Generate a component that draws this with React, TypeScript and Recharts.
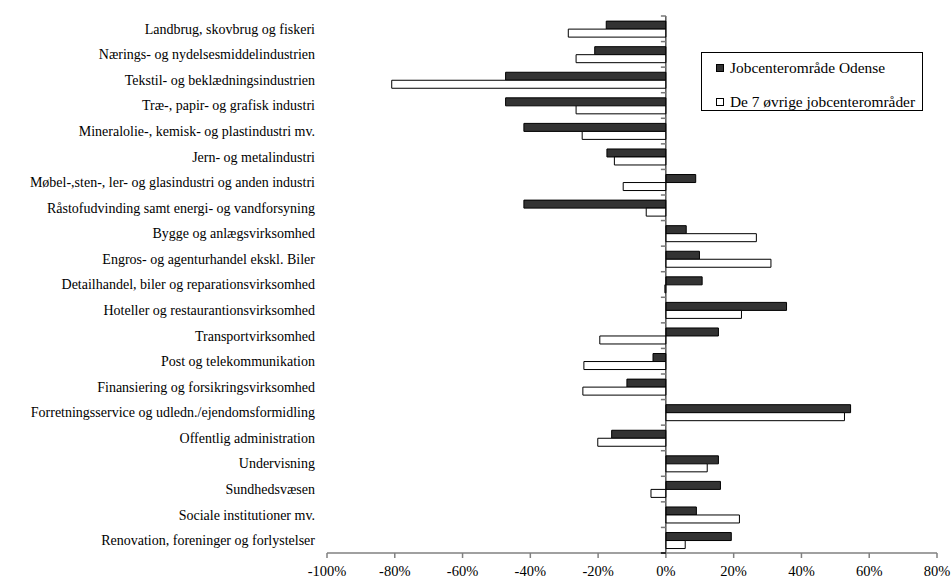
import React from "react";
import {
  Bar, BarChart, Legend, ReferenceLine, XAxis, YAxis,
} from "recharts";

// Sector change, Odense vs the other 7 job centre areas (percent)
const categories = [
  "Landbrug, skovbrug og fiskeri",
  "Nærings- og nydelsesmiddelindustrien",
  "Tekstil- og beklædningsindustrien",
  "Træ-, papir- og grafisk industri",
  "Mineralolie-, kemisk- og plastindustri mv.",
  "Jern- og metalindustri",
  "Møbel-,sten-, ler- og glasindustri og anden industri",
  "Råstofudvinding samt energi- og vandforsyning",
  "Bygge og anlægsvirksomhed",
  "Engros- og agenturhandel ekskl. Biler",
  "Detailhandel, biler og reparationsvirksomhed",
  "Hoteller og restaurantionsvirksomhed",
  "Transportvirksomhed",
  "Post og telekommunikation",
  "Finansiering og forsikringsvirksomhed",
  "Forretningsservice og udledn./ejendomsformidling",
  "Offentlig administration",
  "Undervisning",
  "Sundhedsvæsen",
  "Sociale institutioner mv.",
  "Renovation, foreninger og forlystelser",
];
const odense = [
  -17.6, -21.0, -47.3, -47.3, -41.9, -17.4, 8.8, -41.9, 6.0, 9.9, 10.7,
  35.6, 15.5, -3.8, -11.5, 54.5, -16.0, 15.5, 16.1, 9.0, 19.3,
];
const others = [
  -28.8, -26.5, -80.9, -26.5, -24.7, -15.2, -12.6, -5.8, 26.7, 31.0, -0.3,
  22.3, -19.5, -24.2, -24.5, 52.7, -20.1, 12.2, -4.4, 21.7, 5.7,
];
const xTicks = [-100, -80, -60, -40, -20, 0, 20, 40, 60, 80];
const seriesNames = ["Jobcenterområde Odense", "De 7 øvrige jobcenterområder"];

const data = categories.map((name, i) => ({ name, odense: odense[i], others: others[i] }));

const W = 951;
const H = 583;
const M = { top: 16, right: 14, bottom: 0, left: 0 };
const Y_W = 327;
const X_H = 30;
const FONT = "'Liberation Serif', 'Times New Roman', serif";
const DARK = "#333333";

// zero line x and band height, for the small category ticks at the axis
const plotW = W - M.left - M.right - Y_W;
const ZERO_X = M.left + Y_W + (plotW * 100) / 180;
const BAND = (H - M.top - M.bottom - X_H) / categories.length;

function CatTick(props: any) {
  const { x, y, payload, index } = props;
  const last = index === categories.length - 1;
  return (
    <g>
      <text x={x} y={y} dy="0.35em" textAnchor="end" fontFamily={FONT} fontSize={14} fill="#000">
        {payload.value}
      </text>
      <line x1={ZERO_X - 5} x2={ZERO_X} y1={y - BAND / 2} y2={y - BAND / 2} stroke="#777" strokeWidth={1.5} />
      {last && (
        <line x1={ZERO_X - 5} x2={ZERO_X} y1={y + BAND / 2} y2={y + BAND / 2} stroke="#000" strokeWidth={1.5} />
      )}
    </g>
  );
}

function LegendBox() {
  const fills = [DARK, "#fff"];
  return (
    <div
      style={{
        border: "1px solid #000", background: "#fff", width: 222, height: 59,
        boxSizing: "border-box", fontFamily: FONT, fontSize: 15.4, color: "#000",
        padding: "6px 0 0 14px",
      }}
    >
      {seriesNames.map((n, i) => (
        <div key={n} style={{ display: "flex", alignItems: "center", height: 18, marginBottom: i === 0 ? 16 : 0 }}>
          <span style={{ width: 8, height: 8, background: fills[i], border: "1px solid #000", marginRight: 6, boxSizing: "border-box", flexShrink: 0 }} />
          <span style={{ whiteSpace: "nowrap" }}>{n}</span>
        </div>
      ))}
    </div>
  );
}

export default function App() {
  return (
    <div style={{ position: "absolute", left: 0, top: 0, width: W, height: H, background: "#fff", overflow: "hidden" }}>
      <BarChart
        width={W}
        height={H}
        data={data}
        layout="vertical"
        margin={M}
        barCategoryGap="20%"
        barGap={0}
      >
        <XAxis
          type="number"
          domain={[-100, 80]}
          ticks={xTicks}
          interval={0}
          height={X_H}
          tickFormatter={(v) => `${v}%`}
          tick={{ fontFamily: FONT, fontSize: 14.5, fill: "#000" }}
          axisLine={{ stroke: "#808080", strokeWidth: 1.5 }}
          tickLine={{ stroke: "#808080", strokeWidth: 1.5 }}
          tickSize={5}
          tickMargin={8}
        />
        <YAxis
          type="category"
          dataKey="name"
          width={Y_W}
          interval={0}
          axisLine={false}
          tickLine={false}
          tickSize={0}
          tickMargin={12}
          tick={<CatTick />}
        />
        <ReferenceLine x={0} stroke="#000" strokeWidth={1} />
        <Legend
          layout="horizontal"
          verticalAlign="middle"
          align="center"
          content={() => <LegendBox />}
          wrapperStyle={{ left: 701, top: 52, width: 222, height: 59 }}
        />
        <Bar dataKey="odense" name={seriesNames[0]} fill={DARK} stroke="#000" strokeWidth={1} isAnimationActive={false} />
        <Bar dataKey="others" name={seriesNames[1]} fill="#fff" stroke="#000" strokeWidth={1} isAnimationActive={false} />
      </BarChart>
    </div>
  );
}
